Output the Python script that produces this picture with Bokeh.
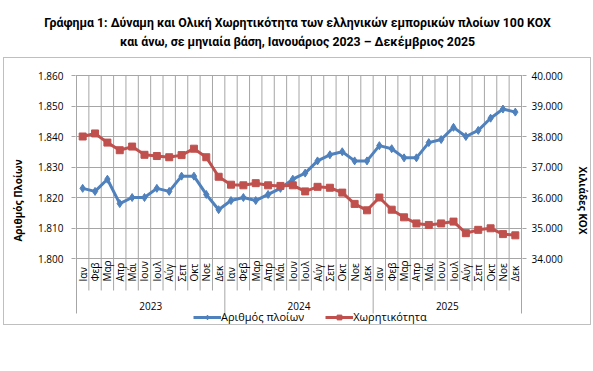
import math
from bokeh.plotting import figure
from bokeh.layouts import column
from bokeh.models import Range1d, LinearAxis, FixedTicker, Legend, LegendItem, Title
from bokeh.core.properties import value
from bokeh.embed import file_html
from bokeh.resources import INLINE

# ---------------- data ----------------
months = ["Ιαν", "Φεβ", "Μαρ", "Απρ", "Μάι", "Ιουν", "Ιουλ", "Αύγ", "Σεπ", "Οκτ", "Νοε", "Δεκ"]
years = ["2023", "2024", "2025"]
ships = [1823, 1822, 1826, 1818, 1820, 1820, 1823, 1822, 1827, 1827, 1821, 1816,
         1819, 1820, 1819, 1821, 1823, 1826, 1828, 1832, 1834, 1835, 1832, 1832,
         1837, 1836, 1833, 1833, 1838, 1839, 1843, 1840, 1842, 1846, 1849, 1848]
tonnage = [38000, 38100, 37800, 37550, 37670, 37400, 37360, 37320, 37390, 37600, 37320, 36680,
           36420, 36400, 36470, 36400, 36380, 36400, 36200, 36350, 36320, 36160, 35790, 35580,
           36000, 35600, 35350, 35150, 35100, 35150, 35210, 34830, 34940, 34990, 34800, 34760]
left_ticks = [1800, 1810, 1820, 1830, 1840, 1850, 1860]
left_labels = ["1.800", "1.810", "1.820", "1.830", "1.840", "1.850", "1.860"]
right_ticks = [34000, 35000, 36000, 37000, 38000, 39000, 40000]
right_labels = ["34.000", "35.000", "36.000", "37.000", "38.000", "39.000", "40.000"]
title_lines = ["Γράφημα 1: Δύναμη και Ολική Χωρητικότητα των ελληνικών εμπορικών πλοίων 100 ΚΟΧ",
               "και άνω, σε μηνιαία βάση, Ιανουάριος 2023 – Δεκέμβριος 2025"]
series_names = ["Αριθμός πλοίων", "Χωρητικότητα"]
left_title = "Αριθμός Πλοίων"
right_title = "Χιλιάδες ΚΟΧ"

# ---------------- styles / geometry (pixels) ----------------
BLUE = "#4F81BD"
RED = "#C0504D"
GRID = "#A6A6A6"
BOX = "#BFBFBF"
FONT = "Open Sans"
TITLE_FONT = "Roboto"

W_T, H_T = 593, 57            # title strip
W_M, H_M = 588, 268           # chart box (inside its 1px border)
MB_L, MB_R, MB_T = 71, 70, 16
PLOT_W, PLOT_H = 445, 183     # plot area inside the frame (1px pad each side)
FRAME_W = W_M - MB_L - MB_R
FRAME_H = H_M - MB_T
PAD = 1
MONTH_SEP = 32                # month separator length below plot
YEAR_SEP = 55                 # year separator length below plot
MONTH_LABEL_Y = 206           # px below plot top where month labels start
YEAR_LABEL_Y = 230

n = len(ships)
xs = [i + 0.5 for i in range(n)]
month_labels = [months[i % 12] for i in range(n)]
year_centers = [6 + 12 * k for k in range(len(years))]

# ---------------- title strip ----------------
t = figure(width=W_T, height=H_T, output_backend="svg", toolbar_location=None,
           x_range=Range1d(0, 1), y_range=Range1d(0, 1),
           x_axis_type=None, y_axis_type=None,
           min_border_left=0, min_border_right=0, min_border_top=50, min_border_bottom=0)
t.outline_line_color = None
t.grid.visible = False
t.add_layout(Title(text=title_lines[1], align="center", text_font=TITLE_FONT, text_font_size="12.3px",
                   text_font_style="bold", text_color="#000000", standoff=4), "above")
t.add_layout(Title(text=title_lines[0], align="center", text_font=TITLE_FONT, text_font_size="12.3px",
                   text_font_style="bold", text_color="#000000", standoff=2), "above")

# ---------------- main chart ----------------
ppx = PLOT_W / n
ppu_l = PLOT_H / (left_ticks[-1] - left_ticks[0])
ppu_r = PLOT_H / (right_ticks[-1] - right_ticks[0])

p = figure(width=W_M, height=H_M, output_backend="svg", toolbar_location=None,
           x_range=Range1d(-PAD / ppx, n + PAD / ppx),
           y_range=Range1d(left_ticks[-1] - (FRAME_H - PAD) / ppu_l, left_ticks[-1] + PAD / ppu_l),
           x_axis_type=None,
           min_border_left=MB_L, min_border_right=MB_R, min_border_top=MB_T, min_border_bottom=0,
           styles={"border": "1px solid " + BOX}, margin=(0, 0, 0, 3))
p.outline_line_color = None
p.background_fill_color = "white"
p.border_fill_color = "white"
p.extra_y_ranges = {
    "gt": Range1d(right_ticks[-1] - (FRAME_H - PAD) / ppu_r, right_ticks[-1] + PAD / ppu_r),
    "px": Range1d(FRAME_H - PAD, -PAD),
}

# horizontal grid
p.ygrid.ticker = FixedTicker(ticks=left_ticks)
p.ygrid.grid_line_color = GRID

# vertical gridlines + category separators
seg_x = list(range(n + 1))
seg_end = [PLOT_H + (YEAR_SEP if k % 12 == 0 else MONTH_SEP) for k in seg_x]
p.segment(x0=seg_x, y0=[0] * len(seg_x), x1=seg_x, y1=seg_end, y_range_name="px",
          line_color=GRID, line_width=1)

# left axis
ya = p.yaxis[0]
ya.ticker = FixedTicker(ticks=left_ticks)
ya.bounds = (left_ticks[0], left_ticks[-1])
ya.major_label_overrides = {tk: lb for tk, lb in zip(left_ticks, left_labels)}
ya.axis_line_color = None
ya.major_tick_line_color = GRID
ya.major_tick_out = 4
ya.major_tick_in = 0
ya.minor_tick_line_color = None
ya.major_label_standoff = 8
ya.major_label_text_font = FONT
ya.major_label_text_font_size = "10px"
ya.major_label_text_color = "#000000"
ya.axis_label = left_title
ya.axis_label_text_font = FONT
ya.axis_label_text_font_size = "10px"
ya.axis_label_text_font_style = "bold"
ya.axis_label_text_color = "#000000"
ya.axis_label_standoff = 10

# right axis
ra = LinearAxis(y_range_name="gt", ticker=FixedTicker(ticks=right_ticks),
                bounds=(right_ticks[0], right_ticks[-1]),
                major_label_overrides={tk: lb for tk, lb in zip(right_ticks, right_labels)})
ra.axis_line_color = None
ra.major_tick_line_color = GRID
ra.major_tick_out = 4
ra.major_tick_in = 0
ra.minor_tick_line_color = None
ra.major_label_standoff = 5
ra.major_label_text_font = FONT
ra.major_label_text_font_size = "10px"
ra.major_label_text_color = "#000000"
ra.axis_label = right_title
ra.axis_label_text_font = FONT
ra.axis_label_text_font_size = "10px"
ra.axis_label_text_font_style = "bold"
ra.axis_label_text_color = "#000000"
ra.axis_label_standoff = 10
p.add_layout(ra, "right")

# category labels (months, years)
p.text(x=xs, y=[MONTH_LABEL_Y] * n, text=month_labels, y_range_name="px", angle=math.pi / 2,
       text_align="left", text_baseline="middle", text_font=value(FONT),
       text_font_size="10px", text_color="#000000")
p.text(x=year_centers, y=[YEAR_LABEL_Y] * len(years), text=years, y_range_name="px",
       text_align="center", text_baseline="middle", text_font=value(FONT),
       text_font_size="10px", text_color="#000000")

# series
l1 = p.line(xs, ships, line_color=BLUE, line_width=3)
s1 = p.scatter(xs, ships, marker="diamond", size=8, fill_color=BLUE, line_color=BLUE)
l2 = p.line(xs, tonnage, y_range_name="gt", line_color=RED, line_width=3)
s2 = p.scatter(xs, tonnage, y_range_name="gt", marker="square", size=7, fill_color=RED, line_color=RED)

legend = Legend(items=[LegendItem(label=series_names[0], renderers=[l1, s1]),
                       LegendItem(label=series_names[1], renderers=[l2, s2])],
                orientation="horizontal", location=(118, 2),
                border_line_color=None, background_fill_alpha=0,
                label_text_font=FONT, label_text_font_size="11px", label_text_color="#000000",
                glyph_width=28, glyph_height=12, label_standoff=0, spacing=21,
                padding=0, margin=0, label_height=12)
p.add_layout(legend, "center")

layout = column(t, p)
open("out.html", "w").write(file_html(layout, INLINE))
